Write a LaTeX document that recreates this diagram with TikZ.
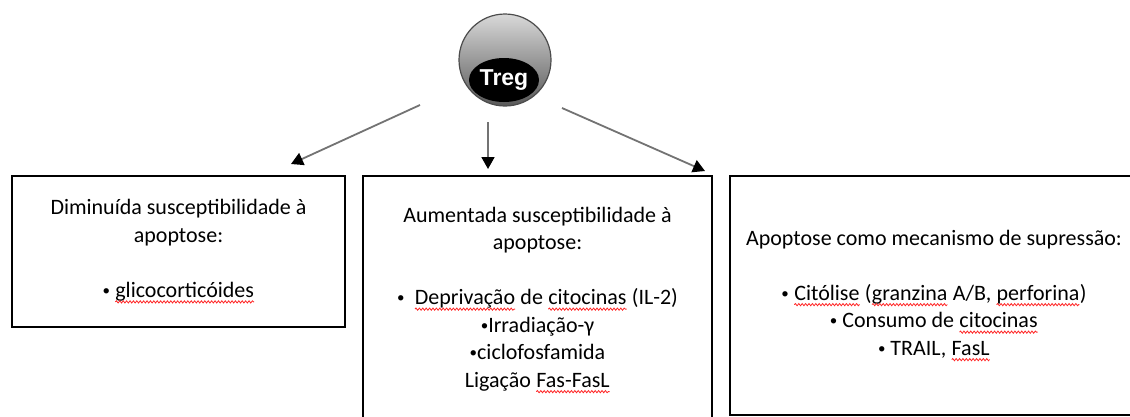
\documentclass[tikz,border=0pt]{standalone}
\usepackage{fontspec}
\setmainfont{Carlito}
\newfontfamily\tregfont{Liberation Sans}
\usetikzlibrary{arrows.meta, decorations.pathmorphing}
\newcommand\spellwave[1]{\tikz[baseline=(sw.base)]{%
  \node[draw=none, inner sep=0pt, outer sep=0pt, minimum width=0pt,
    minimum height=0pt] (sw) {#1};
  \draw[red!85, line width=0.8pt, decorate,
    decoration={snake, amplitude=1.1pt, segment length=3.4pt}]
    ([yshift=-4.5pt]sw.base west) -- ([yshift=-4.5pt]sw.base east);}}
\newcommand\blt{\raisebox{2pt}{\fontsize{15}{15}\selectfont •}}
\tikzset{
  boxnode/.style={draw=black, line width=2.8pt, align=center,
    font=\fontsize{22}{27.5}\selectfont, inner sep=0pt},
  tregarrow/.style={-{Triangle[length=12pt,width=13pt,color=black]},
    draw=black!55, line width=1.8pt}
}

\begin{document}
\begin{tikzpicture}[x=1pt, y=-1pt]
\useasboundingbox (0,0) rectangle (1130,416);

% --- Treg cell ---
\shade[top color=black!15, bottom color=black!65, draw=black!70, line width=1.2pt]
  (505,60) circle (46);
\fill[black] (504,80) ellipse (35 and 22);
\node[text=white, font=\tregfont\bfseries\fontsize{23}{23}\selectfont] (treg) at (504,80) {Treg};

% --- Boxes ---
\node[boxnode, minimum width=333, minimum height=151] (dimin) at (178.5,251.5)
  {Diminuída susceptibilidade à\\apoptose:\\[27.5pt] \blt\ \spellwave{glicocorticóides}};
\node[boxnode, minimum width=349, minimum height=248] (aument) at (537.5,300)
  {Aumentada susceptibilidade à\\apoptose:\\[27.5pt]
   \blt\ \ \spellwave{Deprivação} de \spellwave{citocinas} (IL-2)\\
   \blt Irradiação-γ\\ \blt ciclofosfamida\\ Ligação \spellwave{Fas-FasL}};
\node[boxnode, minimum width=408, minimum height=239] (supress) at (934,295.5)
  {Apoptose como mecanismo de supressão:\\[27.5pt]
   \blt\ \spellwave{Citólise} (\spellwave{granzina} A/B, \spellwave{perforina})\\
   \blt\ Consumo de \spellwave{citocinas}\\ \blt\ TRAIL, \spellwave{FasL}};

% --- Arrows ---
\coordinate (l-start) at (420,105);
\coordinate (l-end) at (291,164);
\coordinate (m-start) at (488,122);
\coordinate (m-end) at (488,169);
\coordinate (r-start) at (562,108);
\coordinate (r-end) at (705,171);
\draw[tregarrow] (l-start) -- (l-end);
\draw[tregarrow] (m-start) -- (m-end);
\draw[tregarrow] (r-start) -- (r-end);

\end{tikzpicture}
\end{document}
